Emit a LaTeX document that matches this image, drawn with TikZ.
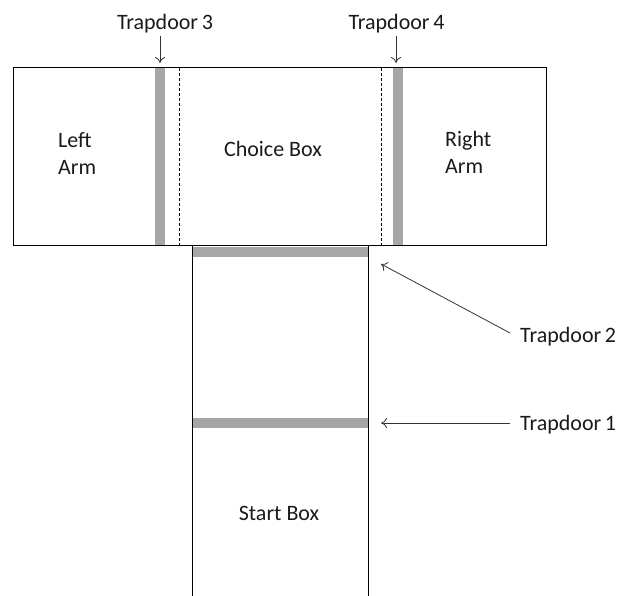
\documentclass[tikz,border=0pt]{standalone}
\usepackage{fontspec}
\setmainfont{Carlito}
\usetikzlibrary{arrows.meta}
\definecolor{bargray}{HTML}{A6A6A6}
\definecolor{txt}{HTML}{1A1A1A}
\tikzset{
  wall/.style={draw=black, line width=1pt},
  bar/.style={fill=bargray, draw=none},
  dashwall/.style={draw=black, dashed, line width=0.6pt, dash pattern=on 3pt off 2pt},
  lbl/.style={font=\fontsize{22}{27}\selectfont, text=txt, inner sep=0pt},
  ptr/.style={draw=black!80, line width=0.8pt, -{To[length=6pt,width=10pt]}}
}
\begin{document}
\begin{tikzpicture}[x=1pt,y=-1pt]
\useasboundingbox (0,0) rectangle (619,596);
% gray trapdoor bars
\fill[bar] (155,68) rectangle (165,246);
\fill[bar] (393,68) rectangle (403,246);
\fill[bar] (192,247) rectangle (369,257);
\fill[bar] (192,418) rectangle (369,428);
% dashed inner lines
\draw[dashwall] (179,68) -- (179,246);
\draw[dashwall] (381,68) -- (381,246);
% top arm box
\draw[wall] (13,68) rectangle (546,246);
% stem
\draw[wall] (192,246) -- (192,597);
\draw[wall] (368.5,246) -- (368.5,597);
% room labels
\node[lbl, align=left, anchor=west] (left) at (58,153) {Left\\Arm};
\node[lbl, anchor=base] (choice) at (273,157) {Choice Box};
\node[lbl, align=left, anchor=west] (right) at (445,152) {Right\\Arm};
\node[lbl, anchor=base] (start) at (279,520) {Start Box};
% trapdoor labels
\node[lbl, anchor=base] (t3) at (165,30) {Trapdoor\,3};
\node[lbl, anchor=base] (t4) at (396.5,30) {Trapdoor\,4};
\node[lbl, anchor=base west] (t2) at (520,342) {Trapdoor\,2};
\node[lbl, anchor=base west] (t1) at (520,430) {Trapdoor\,1};
% arrow targets
\coordinate (p3) at (160,63);
\coordinate (p4) at (396,63);
\coordinate (p2) at (381,264);
\coordinate (p1) at (381,423);
\coordinate (s3) at (160,36);
\coordinate (s4) at (396,36);
\coordinate (s2) at (510,333);
\coordinate (s1) at (510,423);
\draw[ptr] (s3) -- (p3);
\draw[ptr] (s4) -- (p4);
\draw[ptr] (s2) -- (p2);
\draw[ptr] (s1) -- (p1);
\end{tikzpicture}
\end{document}
